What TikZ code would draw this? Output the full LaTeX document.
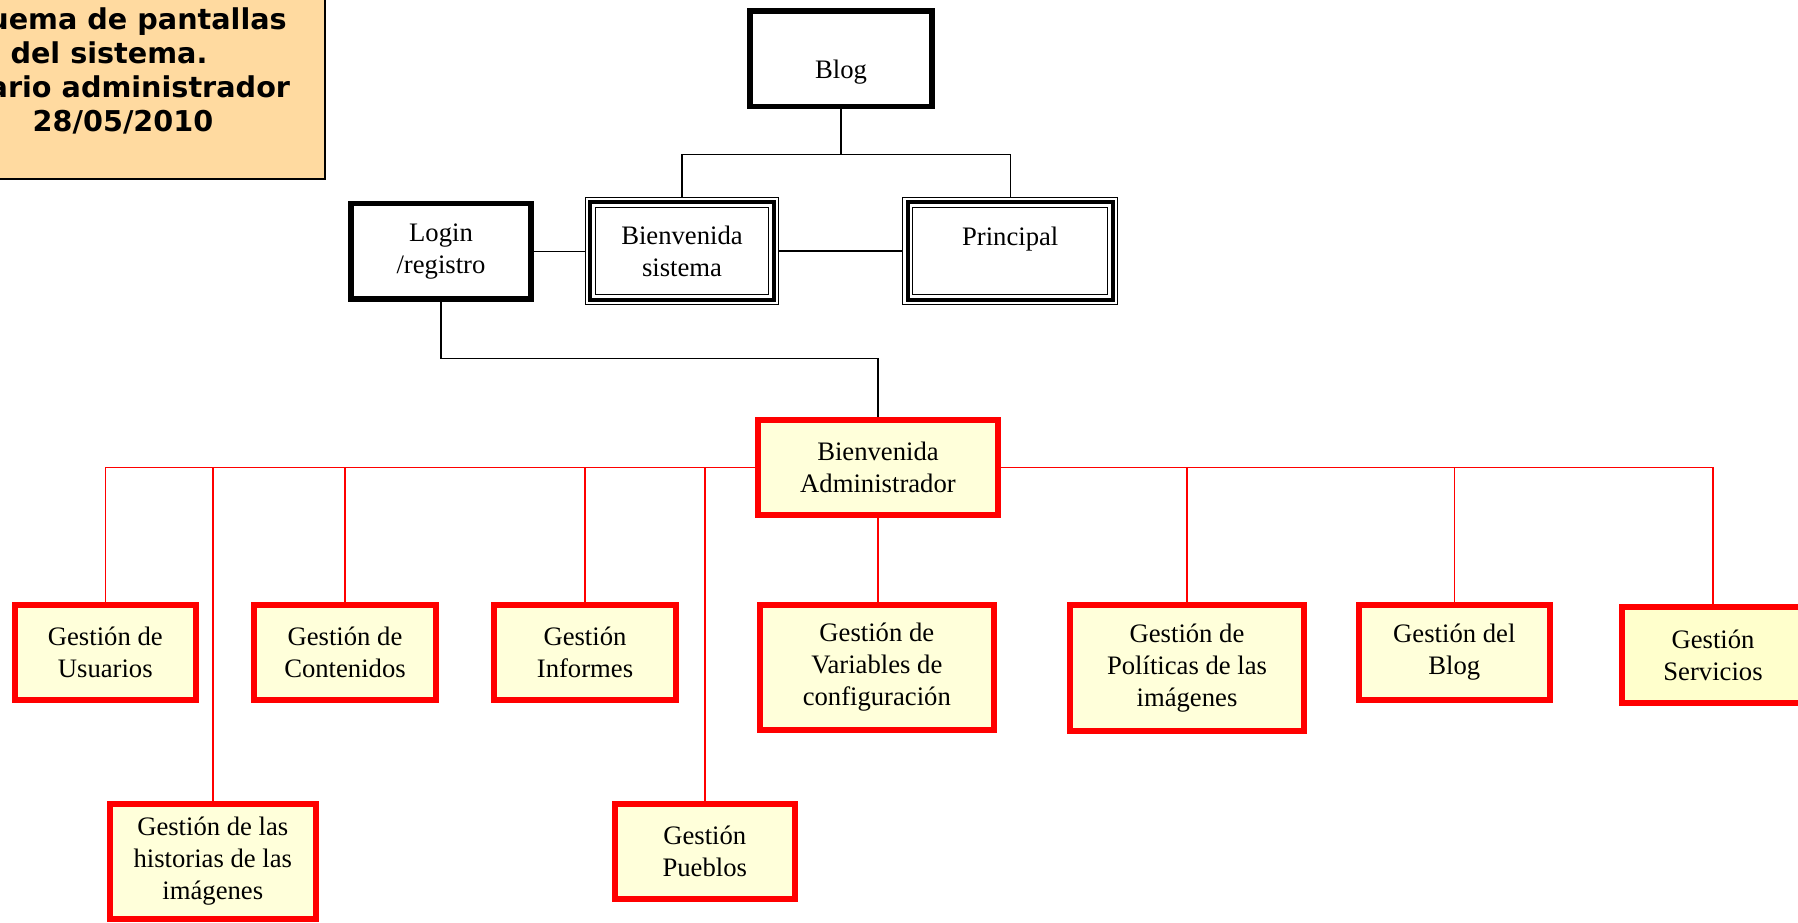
\documentclass[tikz,border=0pt]{standalone}
\usepackage{fontspec}
\setmainfont{Liberation Serif}
\newfontfamily\titlefont{DejaVu Sans}
\definecolor{notefill}{RGB}{255,218,160}
\definecolor{boxfill}{RGB}{255,255,218}
\definecolor{srvfill}{RGB}{255,255,204}

\tikzset{
  blackbox/.style={draw=black, line width=4.2pt},
  triplebox/.style={draw=black, line width=3pt, outer sep=4.1pt,
    preaction={draw=black, double=white, line width=0.75pt, double distance=6.75pt}},
  redbox/.style={draw=red, fill=boxfill, line width=4.7pt},
  blackline/.style={draw=black, line width=0.9pt},
  redline/.style={draw=red, line width=1.1pt}
}

\begin{document}
\begin{tikzpicture}[x=0.75pt,y=-0.75pt,
    every node/.style={font=\fontsize{20pt}{24pt}\selectfont, align=center, inner sep=0pt}]

      \useasboundingbox (0,0) rectangle (1798,923);

      % nota del titulo
      \filldraw[fill=notefill, draw=black, line width=1.1pt] (-85,-10) rectangle (325,179);
      \node[font=\titlefont\bfseries\fontsize{21.5pt}{25.5pt}\selectfont] (title) at (109,71)
        {Esquema de pantallas\\del sistema.\\Usuario administrador\\\hspace*{21pt}28/05/2010};

      %%%%%%%%%%%%%%%%%%%%%%%%%%%%%%%%%%%%

      \node[blackbox, minimum width=136.5pt, minimum height=71.6pt, text height=34pt, text depth=4pt] (blog) at (841,58.8) {Blog};
      \node[blackbox, minimum width=135.4pt, minimum height=71.4pt] (login) at (441,251.3) {Login\\/registro};
      \node[triplebox, minimum width=137.3pt, minimum height=73pt] (bsist) at (682,250.9) {Bienvenida\\sistema};
      \node[triplebox, minimum width=153.5pt, minimum height=73pt, text height=14pt, text depth=22pt] (principal) at (1010.2,250.9) {Principal};

      \coordinate (blogjoin) at (841,154.3);
      \draw[blackline] (blog) -- (blogjoin);
      \draw[blackline] (blogjoin) -| (bsist);
      \draw[blackline] (blogjoin) -| (principal);
      \draw[blackline] (login.east) -- (login.east -| bsist.west);
      \draw[blackline, line width=1.6pt] (bsist.east) -- (bsist.east -| principal.west);

      %%%%%%%%%%%%%%%%%%%%%%%%%%%%%%%%%%%%

      \node[redbox, minimum width=180pt, minimum height=71.3pt] (badmin) at (878,467.3) {Bienvenida\\Administrador};

      \coordinate (loginjoin) at (660,358.3);
      \draw[blackline] (login) |- (loginjoin) -| (badmin);

      \node[redbox, minimum width=135.8pt, minimum height=71.3pt] (usuarios) at (105.3,652.5) {Gestión de\\Usuarios};
      \node[redbox, minimum width=154.3pt, minimum height=86.3pt] (historias) at (212.8,861.3) {Gestión de las\\historias de las\\imágenes};
      \node[redbox, minimum width=136.5pt, minimum height=71.3pt] (contenidos) at (345,652.8) {Gestión de\\Contenidos};
      \node[redbox, minimum width=136.5pt, minimum height=71.3pt] (informes) at (585,652.5) {Gestión\\Informes};
      \node[redbox, minimum width=135pt, minimum height=71.3pt] (pueblos) at (704.8,851.2) {Gestión\\Pueblos};
      \node[redbox, minimum width=175.5pt, minimum height=93.8pt] (variables) at (876.8,667.5) {Gestión de\\Variables de\\configuración};
      \node[redbox, minimum width=175.5pt, minimum height=94.5pt] (politicas) at (1187,668) {Gestión de\\Políticas de las\\imágenes};
      \node[redbox, minimum width=143.3pt, minimum height=71.3pt] (blogm) at (1454.3,652.5) {Gestión del\\Blog};
      \node[redbox, fill=srvfill, minimum width=136.5pt, minimum height=72pt] (servicios) at (1713,655) {Gestión\\Servicios};

      \foreach \n in {usuarios,historias,contenidos,informes,pueblos}
      \draw[redline] (badmin.west) -| (\n);

      \foreach \n in {politicas,blogm,servicios}
      \draw[redline] (badmin.east) -| (\n);

      \draw[redline] (badmin.south) -- (badmin.south |- variables.north);

\end{tikzpicture}
\end{document}
